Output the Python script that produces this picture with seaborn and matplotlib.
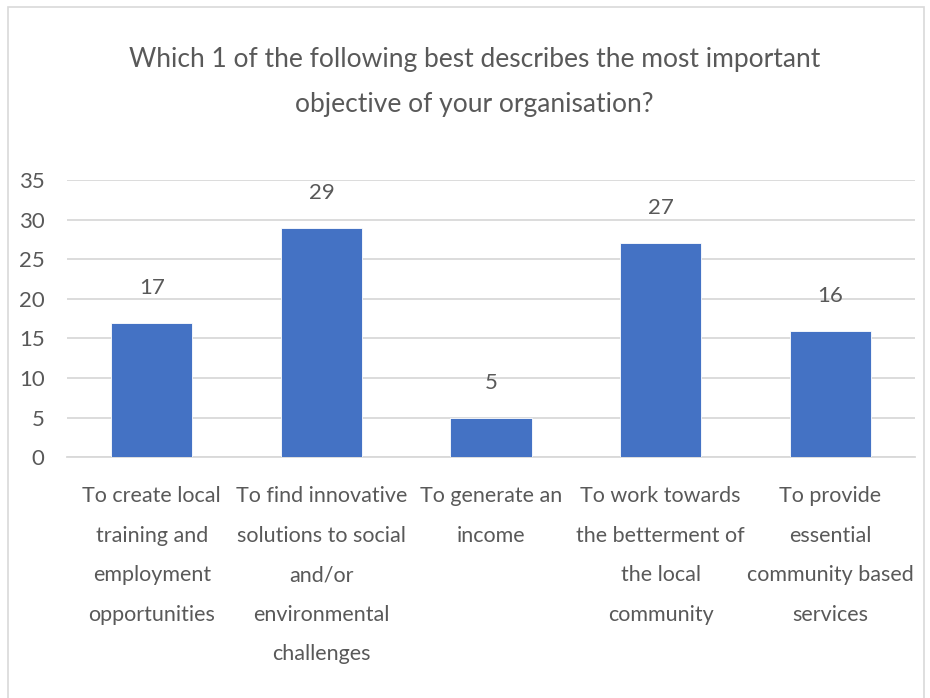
import matplotlib
matplotlib.use("Agg")
import matplotlib.pyplot as plt
import pandas as pd
import seaborn as sns
from matplotlib.patches import Rectangle

# Chart data
categories = [
    "To create local\ntraining and\nemployment\nopportunities",
    "To find innovative\nsolutions to social\nand/or\nenvironmental\nchallenges",
    "To generate an\nincome",
    "To work towards\nthe betterment of\nthe local\ncommunity",
    "To provide\nessential\ncommunity based\nservices",
]
counts = [17, 29, 5, 27, 16]
yticks = [0, 5, 10, 15, 20, 25, 30, 35]
title = "Which 1 of the following best describes the most important\nobjective of your organisation?"

text_color = "#595959"
grid_color = "#D9D9D9"
bar_color = "#4472C4"

sns.set_style("white")
plt.rcParams["font.family"] = ["Lato", "DejaVu Sans"]

df = pd.DataFrame({"category": categories, "count": counts})

fig = plt.figure(figsize=(9.3, 6.98), dpi=100)
ax = fig.add_axes([0.072, 0.345, 0.912, 0.397])

sns.barplot(data=df, x="category", y="count", color=bar_color, width=0.48,
            saturation=1, edgecolor="white", linewidth=0.6, ax=ax, zorder=3)

ax.set_ylim(0, 35)
ax.set_xlim(-0.5, len(categories) - 0.5)
ax.set_yticks(yticks)
ax.yaxis.grid(True, color=grid_color, linewidth=1.3, zorder=0)
ax.set_axisbelow(True)
ax.tick_params(axis="y", length=0, pad=16, labelsize=16, labelcolor=text_color)
ax.tick_params(axis="x", which="major", length=0, pad=21, labelsize=15.5,
               labelcolor=text_color)
ax.set_xticks(range(len(categories)))
ax.set_xticklabels(categories, linespacing=2.22, va="top")
ax.set_xticks([i - 0.5 for i in range(len(categories) + 1)], minor=True)
ax.tick_params(axis="x", which="minor", length=7, width=1.3, color=grid_color,
               direction="out")
ax.set_xlabel("")
ax.set_ylabel("")

for side in ["top", "right", "left"]:
    ax.spines[side].set_visible(False)
ax.spines["bottom"].set_color(grid_color)
ax.spines["bottom"].set_linewidth(1.3)

for i, v in enumerate(counts):
    ax.annotate(str(v), (i, v), xytext=(0, 18), textcoords="offset points",
                ha="center", va="bottom", fontsize=16, color=text_color)

fig.text(0.51, 0.882, title, ha="center", va="center", fontsize=19,
         color=text_color, linespacing=2.0)

fig.patches.append(Rectangle((0.009, -0.01), 0.985, 1.0, transform=fig.transFigure,
                             fill=False, edgecolor=grid_color, linewidth=1.2))

fig.savefig("out.png", dpi=100)
